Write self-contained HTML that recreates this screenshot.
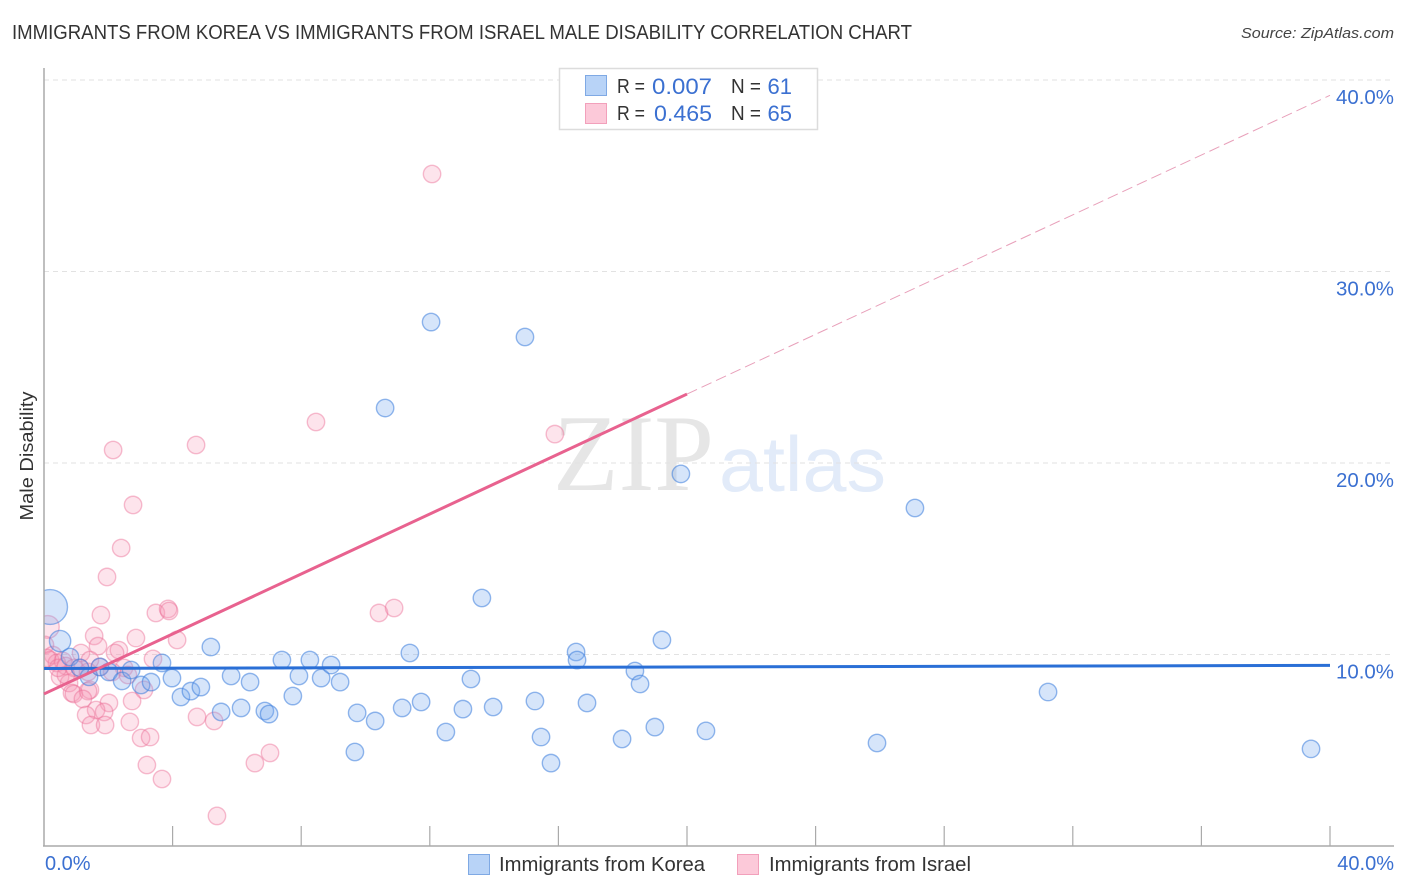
<!DOCTYPE html>
<html lang="en">
<head>
<meta charset="utf-8">
<title>Immigrants from Korea vs Immigrants from Israel Male Disability Correlation Chart</title>
<style>
html,body{margin:0;padding:0;background:#fff;width:1406px;height:892px;overflow:hidden}
svg{display:block;font-family:"Liberation Sans",sans-serif}
</style>
</head>
<body>
<svg id="chart" xmlns="http://www.w3.org/2000/svg" width="1406" height="892" viewBox="0 0 1406 892">
  <defs>
    <clipPath id="plot-clip"><rect x="44" y="60" width="1360" height="786"/></clipPath>
  </defs>
  <rect width="1406" height="892" fill="#fff"/>
  <text x="12" y="39" font-size="20" fill="#333" textLength="900" lengthAdjust="spacingAndGlyphs">IMMIGRANTS FROM KOREA VS IMMIGRANTS FROM ISRAEL MALE DISABILITY CORRELATION CHART</text>
  <text x="1394" y="38" font-size="15" font-style="italic" fill="#444" text-anchor="end" textLength="153" lengthAdjust="spacingAndGlyphs">Source: ZipAtlas.com</text>
  <g>
    <text x="553" y="490" font-family="'Liberation Serif',serif" font-size="109" fill="#e6e6e6" textLength="161" lengthAdjust="spacingAndGlyphs">ZIP</text>
    <text x="719" y="491" font-size="78" fill="#e2ebf9" textLength="167" lengthAdjust="spacingAndGlyphs">atlas</text>
  </g>
  <g id="grid"></g>
  <g id="points" clip-path="url(#plot-clip)"></g>
  <g id="axes"></g>
  <g id="trends"></g>
  <text transform="translate(33,456) rotate(-90)" font-size="18" fill="#333" text-anchor="middle" textLength="129" lengthAdjust="spacingAndGlyphs">Male Disability</text>
  <g>
    <rect x="559.5" y="68.5" width="258" height="61" fill="#fff" stroke="#dcdcdc" stroke-width="1.5"/>
    <rect x="585.5" y="75.5" width="21" height="20" fill="#b8d3f7" stroke="#7fa9e4" stroke-width="1"/>
    <rect x="585.5" y="103.5" width="21" height="20" fill="#fcc9d9" stroke="#f2a0bb" stroke-width="1"/>
    <text x="617" y="93" font-size="20" fill="#333" textLength="28" lengthAdjust="spacingAndGlyphs">R =</text>
    <text x="652" y="94" font-size="22" fill="#3b70d1" textLength="60" lengthAdjust="spacingAndGlyphs">0.007</text>
    <text x="731" y="93" font-size="20" fill="#333" textLength="30" lengthAdjust="spacingAndGlyphs">N =</text>
    <text x="792" y="94" font-size="22" fill="#3b70d1" text-anchor="end">61</text>
    <text x="617" y="120" font-size="20" fill="#333" textLength="28" lengthAdjust="spacingAndGlyphs">R =</text>
    <text x="654" y="121" font-size="22" fill="#3b70d1" textLength="58" lengthAdjust="spacingAndGlyphs">0.465</text>
    <text x="731" y="120" font-size="20" fill="#333" textLength="30" lengthAdjust="spacingAndGlyphs">N =</text>
    <text x="792" y="121" font-size="22" fill="#3b70d1" text-anchor="end">65</text>
  </g>
  <g>
    <rect x="468.5" y="854.5" width="21" height="20" fill="#b8d3f7" stroke="#7fa9e4" stroke-width="1"/>
    <text x="499" y="871" font-size="20" fill="#333" textLength="206" lengthAdjust="spacingAndGlyphs">Immigrants from Korea</text>
    <rect x="737.5" y="854.5" width="21" height="20" fill="#fcc9d9" stroke="#f2a0bb" stroke-width="1"/>
    <text x="769" y="871" font-size="20" fill="#333" textLength="202" lengthAdjust="spacingAndGlyphs">Immigrants from Israel</text>
  </g>
</svg>
<script>
var yTickValues = [10, 20, 30, 40];
var yTickLabels = ["10.0%", "20.0%", "30.0%", "40.0%"];
var xTickValues = [0, 4, 8, 12, 16, 20, 24, 28, 32, 36, 40];
var xEndValues = [0, 40];
var xEndLabels = ["0.0%", "40.0%"];

var koreaX = [0.19,0.50,0.81,1.40,1.74,2.02,2.43,2.71,3.02,3.33,3.67,3.98,4.26,4.57,4.88,5.19,5.51,5.82,6.13,6.41,6.87,7.00,7.40,7.74,7.93,8.27,8.62,8.93,9.21,9.74,9.67,10.30,11.14,11.38,11.73,12.04,10.61,12.50,13.03,13.28,13.62,13.97,14.96,15.27,15.46,15.77,16.55,16.58,16.89,17.98,18.38,18.54,19.00,19.22,19.81,20.59,25.91,27.09,31.23,39.41,1.12];
var koreaY = [12.48,10.70,9.87,8.83,9.35,9.09,8.62,9.19,8.41,8.56,9.56,8.77,7.78,8.09,8.30,10.39,7.00,8.88,7.21,8.56,7.05,6.89,9.71,7.83,8.88,9.71,8.77,9.45,8.56,6.95,4.91,6.53,7.21,10.08,7.52,27.36,22.87,5.95,7.15,8.72,12.95,7.26,26.58,7.57,5.69,4.33,10.13,9.71,7.47,5.59,9.14,8.46,6.21,10.76,19.43,6.01,5.38,17.65,8.04,5.07,9.30];
var koreaWeight = [4,1.5,1,1,1,1,1,1,1,1,1,1,1,1,1,1,1,1,1,1,1,1,1,1,1,1,1,1,1,1,1,1,1,1,1,1,1,1,1,1,1,1,1,1,1,1,1,1,1,1,1,1,1,1,1,1,1,1,1,1,1];

var israelX = [12.07,8.46,4.73,15.89,2.15,2.77,2.40,1.96,1.77,3.48,3.86,3.89,10.42,10.89,0.12,1.56,1.68,2.86,4.14,2.33,2.21,1.15,3.39,0.03,0.28,0.19,0.40,0.59,0.68,0.93,1.12,0.50,0.78,0.68,1.74,2.49,2.12,2.61,1.37,0.87,0.93,1.43,1.37,1.21,3.11,2.02,2.74,1.62,1.87,1.31,1.46,1.90,2.67,3.02,3.30,4.76,5.29,6.56,7.03,3.20,3.67,5.38,0.09,0.44,1.43];
var israelY = [35.09,22.14,20.94,21.51,20.68,17.81,15.56,14.05,12.06,12.17,12.38,12.27,12.17,12.43,11.44,10.97,10.44,10.86,10.76,10.23,10.08,10.08,9.77,10.50,9.97,9.71,9.56,9.66,9.40,9.30,9.30,8.83,8.51,8.93,9.35,9.30,9.09,8.93,9.09,7.99,7.94,8.15,8.09,7.68,8.15,7.47,7.57,7.10,7.00,6.84,6.32,6.32,6.48,5.64,5.69,6.74,6.53,4.33,4.86,4.23,3.50,1.57,9.82,9.30,9.71];
var israelWeight = [1,1,1,1,1,1,1,1,1,1,1,1,1,1,1.7,1,1,1,1,1,1,1,1,1,1,1,1,1,1,1,1,1,1,1,1,1,1,1,1,1,1,1,1,1,1,1,1,1,1,1,1,1,1,1,1,1,1,1,1,1,1,1,1,1,1];

var koreaTrendX = [0, 40];
var koreaTrendY = [9.27, 9.43];
var israelSolidX = [0, 20];
var israelSolidY = [7.94, 23.6];
var israelDashX = [20, 40];
var israelDashY = [23.6, 39.2];

var NS = "http://www.w3.org/2000/svg";
function xScale(v) { return 44 + v * 32.15; }
function yScale(v) { return 846 - v * 19.15; }
function rScale(w) { return 8.7 * Math.sqrt(w); }
function make(tag, parent, attrs) {
  var el = document.createElementNS(NS, tag);
  Object.keys(attrs).forEach(function (k) { el.setAttribute(k, attrs[k]); });
  document.getElementById(parent).appendChild(el);
  return el;
}

yTickValues.forEach(function (v, i) {
  var line = make("line", "grid", {x1: 44, x2: 1394, y1: yScale(v), y2: yScale(v), stroke: "#e2e2e2", "stroke-width": 1, "stroke-dasharray": "5 4"});
  
  
  var label = make("text", "axes", {x: 1394, y: yScale(v) + 24, "font-size": 20, fill: "#3b70d1", "text-anchor": "end", textLength: 58, lengthAdjust: "spacingAndGlyphs"});
  label.textContent = yTickLabels[i];
  
  
});

var yAxis = make("line", "axes", {x1: 44, x2: 44, y1: 68, y2: 846.5, stroke: "#aaa", "stroke-width": 1.5});


var xAxis = make("line", "axes", {x1: 43, x2: 1394, y1: 846, y2: 846, stroke: "#aaa", "stroke-width": 1.5});



xTickValues.forEach(function (v) {
  if (v === 0) return;
  var tick = make("line", "axes", {x1: xScale(v), x2: xScale(v), y1: 826, y2: 846, stroke: "#aaa", "stroke-width": 1.2});
  
  
});

xEndValues.forEach(function (v, i) {
  var label = make("text", "axes", {x: i === 0 ? 45 : 1394, y: 870, "font-size": 20, fill: "#3b70d1", "text-anchor": i === 0 ? "start" : "end"});
  label.textContent = xEndLabels[i];
  
  
});

israelX.forEach(function (v, i) {
  var c = make("circle", "points", {cx: xScale(v), cy: yScale(israelY[i]), r: rScale(israelWeight[i]), fill: "rgba(246,150,180,0.26)", stroke: "rgba(236,110,150,0.45)", "stroke-width": 1.4});
  
  
});

koreaX.forEach(function (v, i) {
  var c = make("circle", "points", {cx: xScale(v), cy: yScale(koreaY[i]), r: rScale(koreaWeight[i]), fill: "rgba(120,170,240,0.3)", stroke: "rgba(60,125,220,0.55)", "stroke-width": 1.4});
  
  
});

var koreaTrend = make("line", "trends", {x1: xScale(koreaTrendX[0]), y1: yScale(koreaTrendY[0]), x2: xScale(koreaTrendX[1]), y2: yScale(koreaTrendY[1]), stroke: "#2a6fd6", "stroke-width": 3});



var israelTrend = make("line", "trends", {x1: xScale(israelSolidX[0]), y1: yScale(israelSolidY[0]), x2: xScale(israelSolidX[1]), y2: yScale(israelSolidY[1]), stroke: "#e8628f", "stroke-width": 3});



var israelDash = make("line", "trends", {x1: xScale(israelDashX[0]), y1: yScale(israelDashY[0]), x2: xScale(israelDashX[1]), y2: yScale(israelDashY[1]), stroke: "#e8a0ba", "stroke-width": 1, "stroke-dasharray": "11 5"});


</script>
</body>
</html>
